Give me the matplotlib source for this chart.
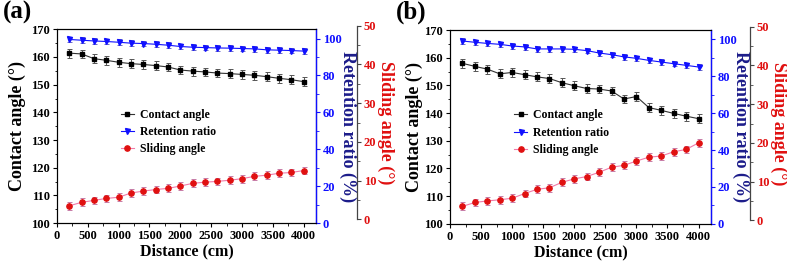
import numpy as np
import matplotlib
matplotlib.use("Agg")
import matplotlib.pyplot as plt
from matplotlib.ticker import MultipleLocator
from matplotlib.lines import Line2D

plt.rcParams['font.family'] = ['Liberation Serif', 'DejaVu Serif']
plt.rcParams['font.weight'] = 'bold'

distance = [200, 400, 600, 800, 1000, 1200, 1400, 1600, 1800, 2000,
            2200, 2400, 2600, 2800, 3000, 3200, 3400, 3600, 3800, 4000]

# panel (a)
contact_a = [161.4, 161.1, 159.4, 158.8, 158.1, 157.6, 157.3, 156.9, 156.4, 155.3,
             154.9, 154.6, 154.2, 154.0, 153.7, 153.4, 152.9, 152.3, 151.8, 151.1]
retention_a = [99.5, 99.1, 98.7, 98.4, 98.0, 97.5, 97.3, 96.9, 96.4, 95.7,
               95.3, 95.1, 94.9, 94.8, 94.6, 94.4, 93.9, 93.7, 93.5, 93.2]
sliding_a = [3.5, 4.4, 4.9, 5.4, 5.7, 6.8, 7.3, 7.7, 8.0, 8.6,
             9.3, 9.6, 9.8, 10.1, 10.5, 11.1, 11.4, 11.9, 12.1, 12.6]

# panel (b)
contact_b = [158.0, 156.9, 155.9, 154.2, 154.7, 153.9, 153.1, 152.5, 151.0, 149.9,
             148.9, 148.7, 148.0, 145.1, 146.0, 142.0, 141.0, 139.9, 138.9, 138.0]
retention_b = [99.1, 98.4, 97.8, 97.3, 96.4, 95.9, 94.8, 94.8, 94.8, 94.6,
               93.9, 92.6, 91.7, 90.5, 89.7, 88.6, 87.7, 86.8, 85.9, 85.0]
sliding_b = [3.6, 4.6, 5.0, 5.3, 5.7, 6.9, 8.0, 8.4, 9.8, 10.7,
             11.3, 12.4, 13.7, 14.2, 15.3, 16.3, 16.6, 17.7, 18.3, 20.0]

err_contact = 1.6
err_retention = 1.5
err_sliding = 1.0

labels = ["Contact angle", "Retention ratio", "Sliding angle"]

BLUE = '#1010ff'
NAVY = '#1c1c8a'
RED = '#e01010'
TICK = 9
LAB = 13

fig = plt.figure(figsize=(7.87, 2.63), dpi=100)


def draw_panel(main_pos, slide_pos, offset, contact, retention, sliding, tag, lab_x):
    ax = fig.add_axes(main_pos)
    ax.errorbar(distance, contact, yerr=err_contact, color='#333333', ecolor='#555555',
                marker='s', ms=3.2, mfc='black', mec='black', lw=0.8, elinewidth=0.7,
                capsize=1.8, capthick=0.7, zorder=3)
    ax.set_xlim(0, 4200)
    ax.set_ylim(100, 170)
    ax.xaxis.set_major_locator(MultipleLocator(500))
    ax.xaxis.set_minor_locator(MultipleLocator(250))
    ax.yaxis.set_major_locator(MultipleLocator(10))
    ax.yaxis.set_minor_locator(MultipleLocator(5))
    ax.tick_params(axis='both', which='major', labelsize=TICK, length=3, width=0.8, pad=2)
    ax.tick_params(axis='both', which='minor', length=1.8, width=0.6)
    ax.tick_params(axis='y', which='both', right=False)
    ax.set_xlabel("Distance (cm)", fontsize=11.5, fontweight='bold', labelpad=1)
    ax.set_ylabel("Contact angle (°)", fontsize=LAB, fontweight='bold')
    ax.yaxis.set_label_coords(lab_x[0], 0.5)
    for s in ax.spines.values():
        s.set_linewidth(0.8)

    axr = ax.twinx()
    axr.errorbar(distance, retention, yerr=err_retention, color=BLUE, ecolor='#6a6ac8',
                 marker='v', ms=3.6, mfc=BLUE, mec=BLUE, lw=0.8, elinewidth=0.7,
                 capsize=1.8, capthick=0.7, zorder=3)
    axr.set_ylim(0, 105)
    axr.yaxis.set_major_locator(MultipleLocator(20))
    axr.yaxis.set_minor_locator(MultipleLocator(10))
    axr.tick_params(axis='y', which='major', labelsize=TICK, length=3, width=0.8,
                    colors=BLUE, pad=2)
    axr.tick_params(axis='y', which='minor', length=1.8, width=0.6, colors=BLUE)
    axr.spines['right'].set_color(BLUE)
    axr.spines['right'].set_linewidth(1.0)
    axr.set_ylabel("Retention ratio (%)", fontsize=LAB, fontweight='bold', color=NAVY,
                   rotation=270)
    axr.yaxis.set_label_coords(lab_x[1], 0.5)
    axr.yaxis.label.set_verticalalignment('bottom')

    axs = fig.add_axes(slide_pos, sharex=ax)
    axs.patch.set_visible(False)
    axs.errorbar(distance, sliding, yerr=err_sliding, color='#f07aa8', ecolor='#c77aa6',
                 marker='o', ms=3.8, mfc=RED, mec=RED, lw=0.8, elinewidth=0.7,
                 capsize=1.8, capthick=0.7, zorder=3)
    axs.set_ylim(0, 50)
    for k in ['left', 'top', 'bottom']:
        axs.spines[k].set_visible(False)
    axs.spines['right'].set_position(('outward', offset))
    axs.spines['right'].set_color('#444444')
    axs.spines['right'].set_linewidth(0.9)
    axs.yaxis.set_label_position('right')
    axs.yaxis.tick_right()
    axs.tick_params(axis='x', which='both', bottom=False, labelbottom=False)
    axs.yaxis.set_major_locator(MultipleLocator(10))
    axs.yaxis.set_minor_locator(MultipleLocator(5))
    axs.tick_params(axis='y', which='major', labelsize=TICK, length=3, width=0.8,
                    labelcolor=RED, color='#444444', pad=2)
    axs.tick_params(axis='y', which='minor', length=1.8, width=0.6, color='#444444')
    axs.set_ylabel("Sliding angle (°)", fontsize=LAB, fontweight='bold', color=RED,
                   rotation=270)
    axs.yaxis.set_label_coords(lab_x[2], 0.5)
    axs.yaxis.label.set_verticalalignment('bottom')

    handles = [
        Line2D([], [], color='#333333', marker='s', ms=3.2, mfc='black', mec='black', lw=0.8),
        Line2D([], [], color=BLUE, marker='v', ms=3.6, mfc=BLUE, mec=BLUE, lw=0.8),
        Line2D([], [], color='#f07aa8', marker='o', ms=3.8, mfc=RED, mec=RED, lw=0.8),
    ]
    axs.legend(handles, labels, loc='center left', bbox_to_anchor=(0.205, 0.47),
               bbox_transform=ax.transAxes, frameon=False, handlelength=1.1,
               handletextpad=0.5, labelspacing=0.45,
               prop={'family': 'Liberation Serif', 'weight': 'bold', 'size': 8.5})

    fig.text(main_pos[0] - 0.069, 0.952, tag, fontsize=18, fontweight='bold',
             va='center', ha='left')


draw_panel([0.0724, 0.152, 0.329, 0.7365], [0.0724, 0.166, 0.329, 0.736], 29.5,
           contact_a, retention_a, sliding_a, "(a)", (-0.118, 1.088, 1.236))
draw_panel([0.5718, 0.149, 0.3316, 0.7365], [0.5718, 0.1624, 0.3316, 0.736], 28,
           contact_b, retention_b, sliding_b, "(b)", (-0.105, 1.082, 1.226))

fig.savefig("out.png", dpi=100)
